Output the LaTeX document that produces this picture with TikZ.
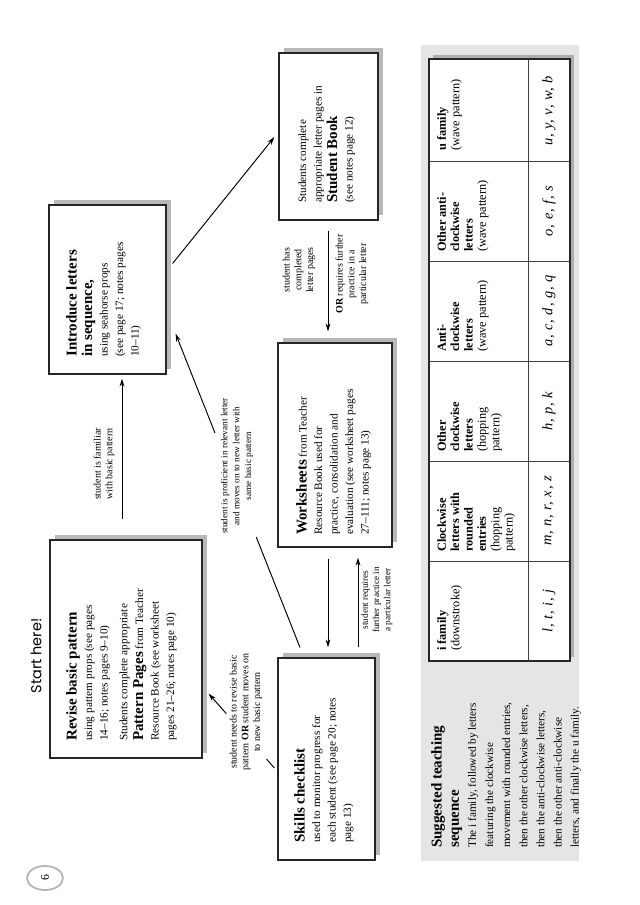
\documentclass[tikz,border=0pt]{standalone}
\usepackage{fontspec}
\usepackage{graphicx}
\setmainfont{Liberation Serif}
\newfontfamily\handfont{Poppins}
\newfontfamily\cursfont[LetterSpace=6]{Liberation Serif}
\usetikzlibrary{arrows.meta,fit,shadows,shapes.geometric,calc}
\def\pxu{0.328125mm}
\newcommand\ttlf{\fontsize{14}{16}\selectfont\bfseries}
\begin{document}
\begin{tikzpicture}[x=0.328125mm,y=-0.328125mm,
  box/.style={draw=black!85, line width=1.1pt, fill=white, inner sep=0pt,
    general shadow={fill=black!28, draw=none, shadow xshift=1.64mm, shadow yshift=1.64mm}},
  txt/.style={rotate=90, anchor=north west, align=left, inner sep=0pt,
    font=\fontsize{10.5}{14.5}\selectfont},
  hdr/.style={rotate=90, anchor=north west, align=left, inner sep=0pt,
    font=\fontsize{11.5}{12.5}\selectfont},
  lt/.style={rotate=90, inner sep=0pt, font=\cursfont\fontsize{13.5}{14}\selectfont\itshape},
  lbl/.style={rotate=90, align=center, inner sep=0pt, font=\fontsize{9.3}{11}\selectfont},
  arr/.style={line width=0.9pt, -{Stealth[length=7.5pt,width=4.5pt]}},
  ln/.style={line width=0.9pt},
  grid/.style={line width=0.8pt, draw=black!75}
]
\useasboundingbox (0,0) rectangle (640,905);

% page number and heading
\node[ellipse, draw=black!30, line width=1.6pt, fill=white, minimum width=36*\pxu,
  minimum height=24*\pxu, inner sep=0pt] (pg) at (45,878)
  {\rotatebox{90}{\fontsize{11}{12}\selectfont 6}};
\node[rotate=90, inner sep=0pt, font=\handfont\fontsize{13.5}{15}\selectfont] (start) at (36,656) {Start here!};

% boxes
\node[box, fit={(50,540) (202,758)}] (revise) {};
\node[box, fit={(49,205) (166,374)}] (intro) {};
\node[box, fit={(279,53) (378,220)}] (sb) {};
\node[box, fit={(278,343) (392,547)}] (ws) {};
\node[box, fit={(278,658) (375,860)}] (skills) {};

% box texts
\node[txt] (revise-t) at (66,741) {{\ttlf Revise basic pattern}\\
  using pattern props (see pages\\
  14–16; notes pages 9–10)\\[4pt]
  Students complete appropriate\\
  {\ttlf Pattern Pages} from Teacher\\
  Resource Book (see worksheet\\
  pages 21–26; notes page 10)};
\node[txt] (intro-t) at (66,357) {{\ttlf Introduce letters}\\
  {\ttlf in sequence,}\\
  using seahorse props\\
  (see page 17; notes pages\\
  10–11)};
\node[txt] (sb-t) at (298,203) {Students complete\\
  appropriate letter pages in\\
  {\ttlf Student Book}\\
  (see notes page 12)};
\node[txt] (ws-t) at (296,535) {{\ttlf Worksheets} from Teacher\\
  Resource Book used for\\
  practice, consolidation and\\
  evaluation (see worksheet pages\\
  27–111; notes page 13)};
\node[txt] (skills-t) at (294,843) {{\ttlf Skills checklist}\\
  used to monitor progress for\\
  each student (see page 20; notes\\
  page 13)};

% connectors
\draw[arr] ($(revise.north)+(-4,-20)$) -- ($(intro.south)+(14.5,4)$);
\draw[arr] ($(intro.east)+(6,-26)$) -- ($(sb.west)+(-4,0.5)$);
\draw[arr] ($(sb.south)+(-0.5,10)$) -- ($(ws.north)+(-7,-11)$);
\draw[arr] ($(ws.south)+(-7,11)$) -- ($(skills.north)+(1.5,-10)$);
\draw[arr] ($(skills.north)+(31.5,-10)$) -- ($(ws.south)+(23,10)$);
\coordinate (pf0) at ($(skills.north)+(-26.5,-10)$);
\coordinate (pf1) at ($(intro.south east)+(9,-41)$);
\draw[ln] (pf0) -- ($(pf0)!0.352!(pf1)$);
\draw[arr] ($(pf0)!0.683!(pf1)$) -- (pf1);
\coordinate (rv0) at ($(skills.west)+(-3,9)$);
\coordinate (rv1) at ($(revise.south east)+(6,-65)$);
\draw[ln] (rv0) -- ($(rv0)!0.12!(rv1)$);
\draw[arr] ($(rv0)!0.73!(rv1)$) -- (rv1);

% connector labels
\node[lbl] (l-fam) at (104,464) {student is familiar\\with basic pattern};
\node[lbl] (l-has) at (299,270) {student has\\completed\\letter pages};
\node[lbl] (l-or) at (352,274) {\textbf{OR} requires further\\practice in a\\particular letter};
\node[lbl, font=\fontsize{8.6}{11}\selectfont] (l-prof) at (237,466) {student is proficient in relevant letter\\and moves on to new letter with\\same basic pattern};
\node[lbl] (l-rev) at (246,712) {student needs to revise basic\\pattern \textbf{OR} student moves on\\to new basic pattern};
\node[lbl, font=\fontsize{8.6}{10.5}\selectfont] (l-req) at (377,600) {student requires\\further practice in\\a particular letter};

% suggested sequence panel and table
\node[fill=black!10, inner sep=0pt, fit={(421,45) (579,861)}] (panel) {};
\fill[black!32] (433,55) rectangle (574,657);
\node[draw=black!85, line width=1pt, fill=white, inner sep=0pt, fit={(429,59) (570,661)}] (table) {};
\draw[grid] (528,59) -- (528,661);
\foreach \yy in {161,261,361,461,561} \draw[grid] (429,\yy) -- (570,\yy);

\node[hdr] (h-u) at (437,151) {\textbf{u family}\\(wave pattern)};
\node[hdr] (h-oa) at (437,252) {\textbf{Other anti-}\\\textbf{clockwise}\\\textbf{letters}\\(wave pattern)};
\node[hdr] (h-a) at (437,352) {\textbf{Anti-}\\\textbf{clockwise}\\\textbf{letters}\\(wave pattern)};
\node[hdr] (h-oc) at (437,452) {\textbf{Other}\\\textbf{clockwise}\\\textbf{letters}\\(hopping\\pattern)};
\node[hdr] (h-c) at (437,552) {\textbf{Clockwise}\\\textbf{letters with}\\\textbf{rounded}\\\textbf{entries}\\(hopping\\pattern)};
\node[hdr] (h-i) at (437,651) {\textbf{i family}\\(downstroke)};

\node[lt] (l-u) at (549,111) {u, y, v, w, b};
\node[lt] (l-oa) at (549,211) {o, e, f, s};
\node[lt] (l-a) at (549,311) {a, c, d, g, q};
\node[lt] (l-oc) at (549,411) {h, p, k};
\node[lt] (l-c) at (549,511) {m, n, r, x, z};
\node[lt] (l-i) at (549,611) {l, t, i, j};

\node[txt, font=\fontsize{10.5}{16}\selectfont] (seq-t) at (431,848) {{\ttlf Suggested teaching}\\
  {\ttlf sequence}\\
  The i family, followed by letters\\
  featuring the clockwise\\
  movement with rounded entries,\\
  then the other clockwise letters,\\
  then the anti-clockwise letters,\\
  then the other anti-clockwise\\
  letters, and finally the u family.};
\end{tikzpicture}
\end{document}
